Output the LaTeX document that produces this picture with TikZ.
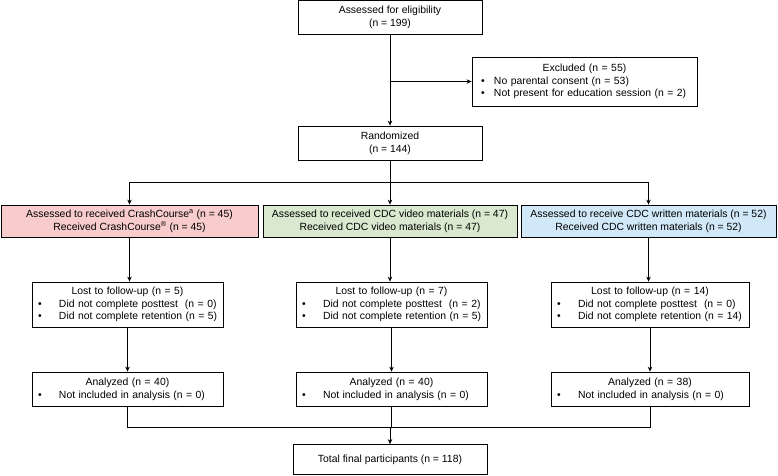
\documentclass[tikz,border=0pt]{standalone}
\usepackage{fontspec}
\setmainfont{Liberation Sans}
\usetikzlibrary{arrows.meta}
\definecolor{crashfill}{RGB}{248,204,204}
\definecolor{videofill}{RGB}{217,233,207}
\definecolor{writtenfill}{RGB}{208,232,247}
\newlength{\bulw}
\setlength{\bulw}{21pt}
\newcommand{\itm}[1]{\\\mbox{\makebox[\bulw][l]{\textbullet}#1}}
\begin{document}
\begin{tikzpicture}[
                x=1pt, y=-1pt,
                every node/.style={font=\fontsize{10.4}{12.7}\selectfont},
                box/.style={draw, line width=0.8pt, align=center, inner sep=2pt},
                listbox/.style={box, align=left, inner xsep=6pt},
                flow/.style={line width=0.8pt},
                arr/.style={flow, -{Stealth[length=5pt, width=4.5pt]}},
            ]
            \useasboundingbox (0,0) rectangle (778,475);
            % screening
            \node[box, minimum width=184pt, minimum height=34pt] (elig) at (390,17)
                {Assessed for eligibility\\(n = 199)};
            \node[listbox, inner xsep=9pt, text width=207pt, minimum height=49pt] (excl) at (584.5,81.5)
                {\makebox[\linewidth]{Excluded (n = 55)}\setlength{\bulw}{13pt}\itm{No parental consent (n = 53)}\itm{Not present for education session (n = 2)}};
            \node[box, minimum width=184pt, minimum height=34pt] (rand) at (390,143)
                {Randomized\\(n = 144)};
            % allocation
            \node[box, fill=crashfill, minimum width=257pt, minimum height=32pt] (crash) at (129.5,221)
                {Assessed to received CrashCourse\textsuperscript{a} (n = 45)\\Received CrashCourse\textsuperscript{®} (n = 45)};
            \node[box, fill=videofill, minimum width=254pt, minimum height=32pt] (video) at (390,221)
                {Assessed to received CDC video materials (n = 47)\\Received CDC video materials (n = 47)};
            \node[box, fill=writtenfill, minimum width=255pt, minimum height=32pt] (written) at (648.5,221)
                {Assessed to receive CDC written materials (n = 52)\\Received CDC written materials (n = 52)};
            % follow-up
            \node[listbox, text width=179pt, minimum height=45pt] (lostcrash) at (127.5,304.5)
                {\makebox[\linewidth]{Lost to follow-up (n = 5)}\itm{Did not complete posttest~ (n = 0)}\itm{Did not complete retention (n = 5)}};
            \node[listbox, text width=179pt, minimum height=45pt] (lostvideo) at (391.5,304.5)
                {\makebox[\linewidth]{Lost to follow-up (n = 7)}\itm{Did not complete posttest~ (n = 2)}\itm{Did not complete retention (n = 5)}};
            \node[listbox, text width=186pt, minimum height=45pt] (lostwritten) at (650,304.5)
                {\makebox[\linewidth]{Lost to follow-up (n = 14)}\itm{Did not complete posttest~ (n = 0)}\itm{Did not complete retention (n = 14)}};
            % analysis
            \node[listbox, text width=179pt, minimum height=34pt] (anacrash) at (127.5,389)
                {\makebox[\linewidth]{Analyzed (n = 40)}\itm{Not included in analysis (n = 0)}};
            \node[listbox, text width=179pt, minimum height=34pt] (anavideo) at (391.5,389)
                {\makebox[\linewidth]{Analyzed (n = 40)}\itm{Not included in analysis (n = 0)}};
            \node[listbox, text width=186pt, minimum height=34pt] (anawritten) at (650,389)
                {\makebox[\linewidth]{Analyzed (n = 38)}\itm{Not included in analysis (n = 0)}};
            \node[box, minimum width=194pt, minimum height=30pt] (total) at (390,459.5)
                {Total final participants (n = 118)};
            % connectors
            \coordinate (split) at (390,182);
            \coordinate (join) at (390,427);
            \draw[arr] (elig.south) -- (rand.north);
            \draw[arr] (elig.south |- excl.west) -- (excl.west);
            \draw[flow] (rand.south) -- (split);
            \draw[arr] (split) -| (crash.north);
            \draw[arr] (split) -- (video.north);
            \draw[arr] (split) -| (written.north);
            \draw[arr] (crash.south) -- (crash.south |- lostcrash.north);
            \draw[arr] (video.south) -- (video.south |- lostvideo.north);
            \draw[arr] (written.south) -- (written.south |- lostwritten.north);
            \draw[arr] (lostcrash.south) -- (anacrash.north);
            \draw[arr] (lostvideo.south) -- (anavideo.north);
            \draw[arr] (lostwritten.south) -- (anawritten.north);
            \draw[flow] (anacrash.south) |- (join) -| (anawritten.south);
            \draw[flow] (anavideo.south) -- (anavideo.south |- join);
            \draw[arr] (join) -- (total.north);
            \end{tikzpicture}
\end{document}
